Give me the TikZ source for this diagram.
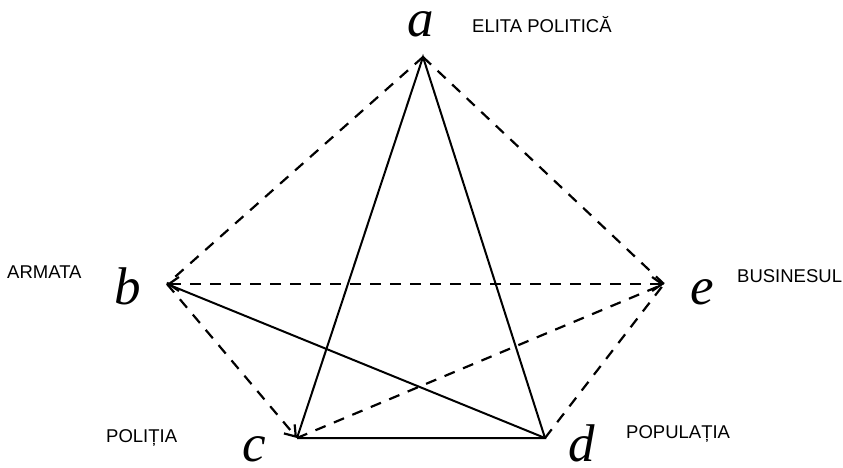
\documentclass[tikz,border=0pt]{standalone}
\usepackage{fontspec}
\usepackage{tikz}
\usetikzlibrary{arrows.meta,calc,positioning}
\setmainfont{Liberation Serif}
\newfontfamily\labelfont{Liberation Sans}
\newcommand{\vertexletter}[1]{\fontsize{53}{53}\selectfont\itshape #1}

\begin{document}
\begin{tikzpicture}[x=1pt,y=-1pt,
  solidedge/.style={draw=black,line width=2pt},
  dashedge/.style={draw=black,line width=2.2pt,dash pattern=on 11pt off 9pt},
  tip/.style={-{Straight Barb[length=10pt,width=14pt]}},
  vletter/.style={anchor=base,inner sep=0pt,font=\vertexletter},
  grouplabel/.style={anchor=base west,inner sep=0pt,font=\labelfont\fontsize{18.5}{20}\selectfont}]
  \useasboundingbox (0,0) rectangle (843,467);
  % vertices
  \coordinate (a) at (423,57);
  \coordinate (b) at (167,284);
  \coordinate (c) at (297,438);
  \coordinate (d) at (545,438);
  \coordinate (e) at (664,284);
  % letters
  \node[vletter] (la) at (421,36) {a};
  \node[vletter] (lb) at (128,304) {b};
  \node[vletter] (lc) at (254,461) {c};
  \node[vletter] (ld) at (582,461) {d};
  \node[vletter] (le) at (702,304) {e};
  % group names
  \node[grouplabel] (elita) at (472,32) {ELITA POLITICĂ};
  \node[grouplabel] (armata) at (7,278) {ARMATA};
  \node[grouplabel] (business) at (737,282) {BUSINESUL};
  \node[grouplabel] (politia) at (106,442) {POLIȚIA};
  \node[grouplabel] (populatia) at (626,438) {POPULAȚIA};
  % solid ties
  \draw[solidedge] (c) -- (a) -- (d) -- (c);
  \draw[solidedge] (b) -- (d);
  % dashed ties
  \draw[dashedge] (a) -- (b);
  \draw[dashedge] (a) -- (e);
  \draw[dashedge,{Straight Barb[length=10pt,width=14pt]}-{Straight Barb[length=10pt,width=14pt]}] (b) -- (e);
  \draw[dashedge,tip] (b) -- (c);
  \draw[dashedge] (c) -- (e);
  \draw[dashedge] (d) -- (e);
\end{tikzpicture}
\end{document}
